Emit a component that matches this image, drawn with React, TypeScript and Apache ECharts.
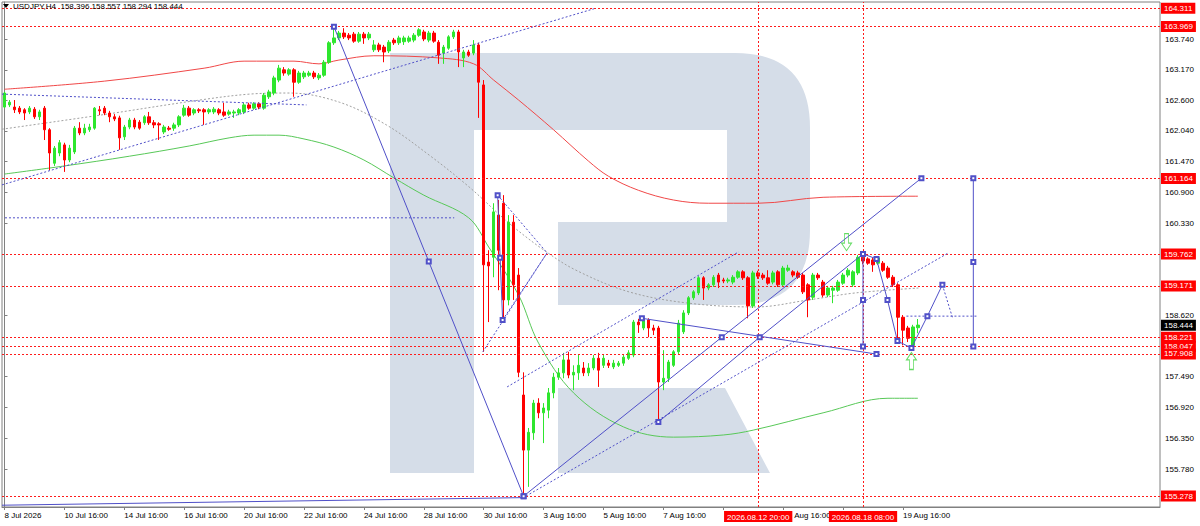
import React, { useEffect, useRef } from 'react';
import * as echarts from 'echarts';

// ---------- DATA ----------
const symbolTitle = 'USDJPY,H4  158.396 158.557 158.294 158.444';

const opens = [
  162.48,162.52,162.48,162.46,162.43,162.39,162.44,162.30,162.46,162.06,
  161.44,161.63,161.78,161.50,161.65,162.09,162.00,162.06,162.09,162.43,
  162.46,162.37,162.30,162.28,161.93,162.11,162.24,162.20,162.19,162.30,
  162.19,162.17,162.02,162.09,162.09,162.15,162.33,162.46,162.37,162.43,
  162.43,162.39,162.39,162.43,162.39,162.35,162.37,162.37,162.39,162.52,
  162.46,162.54,162.46,162.67,162.74,162.98,163.17,163.09,163.17,162.94,
  163.04,163.07,163.11,163.02,163.07,163.31,163.67,163.76,163.85,163.81,
  163.83,163.70,163.83,163.76,163.54,163.63,163.59,163.52,163.72,163.67,
  163.69,163.70,163.72,163.81,163.87,163.72,163.85,163.68,163.48,163.57,
  163.78,163.87,163.39,163.50,163.48,163.63,162.89,159.61,159.70,160.48,
  160.70,158.91,160.35,159.37,157.15,156.13,156.45,157.00,156.82,156.87,
  157.19,157.48,157.56,157.80,157.52,157.56,157.65,157.56,157.65,157.83,
  157.70,157.74,157.67,157.70,157.74,157.83,157.89,158.50,158.39,158.54,
  158.39,158.39,157.39,157.46,157.70,157.95,158.32,158.67,158.95,159.04,
  159.32,159.13,159.19,159.37,159.28,159.26,159.24,159.33,159.43,159.32,
  158.80,159.41,159.37,159.32,159.24,159.43,159.19,159.46,159.43,159.41,
  159.37,159.19,158.96,159.37,159.24,159.00,159.09,159.09,159.22,159.37,
  159.19,159.41,159.70,159.67,159.65,159.59,159.59,159.50,159.33,159.19,
  158.59,158.39,158.07,158.396
];
const closes = [
  162.74,162.57,162.43,162.39,162.37,162.46,162.30,162.39,162.06,161.63,
  161.72,161.82,161.50,161.72,162.09,162.00,162.09,162.11,162.46,162.41,
  162.37,162.30,162.26,161.91,162.11,162.24,162.11,162.09,162.30,162.19,
  162.15,162.15,162.11,162.07,162.15,162.30,162.46,162.33,162.43,162.41,
  162.39,162.43,162.44,162.37,162.33,162.39,162.39,162.43,162.52,162.46,
  162.54,162.48,162.70,162.76,163.02,163.20,163.11,163.17,162.94,163.11,
  163.11,163.11,163.04,163.07,163.31,163.67,163.76,163.85,163.78,163.76,
  163.70,163.83,163.76,163.83,163.63,163.54,163.50,163.68,163.67,163.76,
  163.76,163.76,163.81,163.91,163.74,163.85,163.70,163.44,163.59,163.78,
  163.87,163.50,163.50,163.44,163.63,162.94,159.56,159.54,160.54,159.83,
  158.91,160.35,159.19,157.57,156.13,156.46,157.00,156.82,156.91,157.19,
  157.48,157.56,157.80,157.52,157.57,157.70,157.56,157.65,157.83,157.61,
  157.83,157.70,157.74,157.74,157.85,157.93,158.50,158.45,158.57,158.39,
  158.35,157.39,157.46,157.76,157.95,158.48,158.67,158.95,159.06,159.32,
  159.13,159.19,159.33,159.24,159.26,159.28,159.33,159.43,159.32,158.80,
  159.41,159.35,159.32,159.22,159.41,159.19,159.50,159.50,159.37,159.33,
  159.06,158.91,159.37,159.32,159.00,159.13,159.13,159.24,159.37,159.46,
  159.43,159.70,159.63,159.59,159.56,159.69,159.46,159.33,159.19,158.59,
  158.35,158.20,158.41,158.444
];
const highs = [
  162.76,162.61,162.61,162.50,162.46,162.50,162.48,162.43,162.50,162.09,
  161.76,161.87,161.82,161.78,162.13,162.20,162.17,162.17,162.48,162.50,
  162.50,162.41,162.35,162.32,162.15,162.28,162.28,162.24,162.33,162.39,
  162.24,162.20,162.15,162.13,162.19,162.33,162.52,162.50,162.46,162.46,
  162.46,162.46,162.48,162.46,162.56,162.43,162.43,162.46,162.56,162.56,
  162.57,162.57,162.74,162.80,163.06,163.26,163.22,163.20,163.20,163.15,
  163.15,163.15,163.15,163.11,163.35,163.70,163.969,163.89,163.94,163.85,
  163.87,163.87,163.87,163.87,163.72,163.67,163.63,163.72,163.76,163.80,
  163.80,163.80,163.85,163.94,163.91,163.89,163.89,163.72,163.63,163.81,
  163.91,163.91,163.54,163.54,163.72,163.67,162.98,159.83,160.70,160.76,
  160.85,160.48,160.48,159.50,157.57,156.54,157.06,157.09,157.00,157.28,
  157.56,157.65,157.93,157.95,157.70,157.89,157.76,157.74,157.89,157.93,
  157.89,157.80,157.80,157.78,157.89,157.98,158.54,158.56,158.59,158.57,
  158.45,158.43,157.98,157.80,157.98,158.54,158.72,158.98,159.09,159.35,
  159.35,159.22,159.37,159.41,159.32,159.32,159.37,159.46,159.46,159.35,
  159.45,159.45,159.41,159.46,159.45,159.46,159.54,159.56,159.46,159.45,
  159.41,159.22,159.41,159.41,159.28,159.17,159.17,159.28,159.41,159.50,
  159.46,159.74,159.762,159.70,159.69,159.72,159.63,159.54,159.37,159.22,
  158.63,158.43,158.45,158.557
];
const lows = [
  162.46,162.48,162.37,162.35,162.24,162.35,162.26,162.24,161.87,161.31,
  161.39,161.57,161.28,161.46,161.61,161.96,161.96,162.02,162.06,162.33,
  162.33,162.20,162.22,161.69,161.87,162.07,162.07,162.06,162.15,162.15,
  162.09,161.87,161.98,162.04,162.04,162.11,162.30,162.30,162.33,162.37,
  162.15,162.35,162.35,162.33,162.30,162.32,162.28,162.33,162.35,162.43,
  162.43,162.44,162.43,162.63,162.70,162.94,163.06,163.06,162.67,162.91,
  163.00,163.04,163.00,162.98,163.04,163.28,163.63,163.72,163.74,163.72,
  163.67,163.67,163.65,163.72,163.50,163.50,163.31,163.48,163.63,163.63,
  163.63,163.67,163.68,163.78,163.70,163.68,163.67,163.28,163.28,163.54,
  163.74,163.22,163.22,163.41,163.44,162.28,157.95,158.50,159.33,159.09,
  158.57,158.81,158.91,157.48,155.278,155.45,156.32,156.72,156.26,156.72,
  157.09,157.43,157.46,157.46,157.24,157.43,157.50,157.50,157.61,157.30,
  157.65,157.65,157.63,157.67,157.69,157.80,157.85,158.30,158.35,158.22,
  158.26,156.65,157.24,157.39,157.67,157.91,158.28,158.63,158.91,159.00,
  158.91,159.09,159.15,159.13,159.22,159.22,159.20,159.30,159.28,158.57,
  158.76,159.30,159.28,159.19,159.20,159.15,159.15,159.43,159.33,159.30,
  159.02,158.59,158.91,159.28,158.96,158.96,158.85,159.06,159.19,159.33,
  159.15,159.37,159.57,159.56,159.43,159.56,159.43,159.30,159.15,158.17,
  158.07,158.13,158.047,158.294
];

// moving averages (bar index, price)
const redMA = [[0,162.81],[20,162.96],[40,163.20],[48,163.33],[58,163.33],[63,163.28],[67,163.35],[74,163.43],[87,163.39],[94,163.28],[98,162.98],[103,162.61],[110,162.06],[117,161.48],[121,161.20],[127,160.94],[134,160.76],[141,160.70],[151,160.70],[164,160.81],[183,160.83]];
const greenMA = [[0,161.24],[12,161.39],[25,161.57],[37,161.76],[45,161.91],[50,161.96],[55,161.96],[60,161.89],[66,161.74],[72,161.50],[78,161.17],[84,160.85],[93,160.43],[97,159.89],[103,159.00],[107,158.11],[114,157.19],[124,156.56],[134,156.37],[144,156.41],[150,156.50],[164,156.82],[177,157.09],[183,157.09]];
const grayArc = [[-0.5,162.07],[19.1,162.33],[39.1,162.61],[49.1,162.72],[57.1,162.74],[67.1,162.57],[76.5,162.15],[85.1,161.59],[93.1,161.00],[101.1,160.33],[108.1,159.83],[114.5,159.46],[125.1,159.06],[137.1,158.85],[150.5,158.78],[161.1,158.91],[170.5,159.04],[183.1,159.13]];

// drawn objects (bar index, price)
const waveDown = [[66,163.969],[85,159.62],[104,155.278]];
const smallZig = [[98.8,160.85],[99.3,159.69],[99.8,158.54]];
const triA = [[98.8,160.85],[108.7,159.78]];
const triB = [[108.7,159.78],[95.7,157.93]];
const triC = [[99.8,158.54],[108.7,159.78]];
const channelA = [[104,155.278],[143.7,158.22],[183.7,161.164]];
const channelB = [[131,156.65],[151.3,158.22],[172,159.762]];
const dotUpper = [[100.7,157.30],[147.1,159.80]];
const dotLower = [[104.5,155.28],[189.1,159.78]];
const fallLine = [[127.7,158.57],[174.7,157.908]];
const vertA = [[172,159.762],[172,158.91],[172,158.047]];
const forecast = [[172,159.762],[174.7,159.67],[176.9,158.91],[178.9,158.15],[181.7,158.02],[184.9,158.61],[187.9,159.19]];
const forecastTail = [[187.9,159.19],[189.9,158.59]];
const forecastLevel = [[180.7,158.61],[195.1,158.61]];
const vertB = [[194.1,161.164],[194.1,159.61],[194.1,158.047]];
const bottomLine = [[-0.5,155.11],[103.7,155.25]];
const dotL1 = [[-0.5,161.04],[118.1,164.30]];
const dotL2 = [[-0.5,162.72],[60.5,162.52]];
const dotL3 = [[0.1,160.43],[90.1,160.43]];
const arrowDown = [[168.7,159.98]];
const arrowUp = [[181.7,157.78]];

const levels = [164.311, 163.969, 161.164, 159.762, 159.171, 158.221, 158.047, 157.908, 155.278];
const lastPrice = 158.444;
const vLines = ['2026.08.12 20:00', '2026.08.18 08:00'];
const yTicks = [163.74, 163.17, 162.6, 162.04, 161.47, 160.9, 160.33, 158.62, 157.49, 156.92, 156.35, 155.78];
// labels that stay visible next to the red time boxes ('13 Aug 16:00' shows only its tail)
const xTickKeys = ['2026.07.08 16:00','2026.07.10 16:00','2026.07.14 16:00','2026.07.16 16:00','2026.07.20 16:00','2026.07.22 16:00','2026.07.24 16:00','2026.07.28 16:00','2026.07.30 16:00','2026.08.03 16:00','2026.08.05 16:00','2026.08.07 16:00','2026.08.13 16:00','2026.08.19 16:00'];
const xTickLabels = ['8 Jul 2026','10 Jul 16:00','14 Jul 16:00','16 Jul 16:00','20 Jul 16:00','22 Jul 16:00','24 Jul 16:00','28 Jul 16:00','30 Jul 16:00','3 Aug 16:00','5 Aug 16:00','7 Aug 16:00','{cut|Aug 16:00}','19 Aug 16:00'];
const xTickOnly = ['2026.08.11 16:00', '2026.08.17 16:00'];

const SLOTS = 232;

// ---------- helpers ----------
const pad = (n: number) => (n < 10 ? '0' + n : '' + n);
function buildCategories(): string[] {
  const out: string[] = [];
  let t = Date.UTC(2026, 6, 8, 16);
  while (out.length < SLOTS) {
    const d = new Date(t);
    const wd = d.getUTCDay();
    if (wd !== 0 && wd !== 6) {
      out.push(`${d.getUTCFullYear()}.${pad(d.getUTCMonth() + 1)}.${pad(d.getUTCDate())} ${pad(d.getUTCHours())}:00`);
    }
    t += 4 * 3600 * 1000;
  }
  return out;
}

const LOGO_D = 'M0,0 H345 Q420,0 420,75 V177 Q420,252 345,252 H168 V169 H337 V77 H84 V420 H0 Z M168,335 H335 L380,420 H168 Z';
echarts.graphic.registerShape('rlogo', echarts.graphic.extendPath(LOGO_D, {}) as any);

const BLUE = '#5050c8';
const RED = '#ff1a1a';
const FONT = 'Liberation Sans, Arial, sans-serif';

function seg(data: number[][], dashed: boolean, squares: boolean, color = BLUE): any {
  return {
    type: 'line',
    xAxisIndex: 1,
    yAxisIndex: 0,
    data,
    silent: true,
    showSymbol: squares,
    symbol: 'emptyRect',
    symbolSize: 4,
    itemStyle: { color, borderWidth: 1 },
    lineStyle: { color, width: 1, type: dashed ? [2, 2] : 'solid' },
    z: 5,
  };
}

export default function App() {
  const ref = useRef<HTMLDivElement>(null);
  useEffect(() => {
    document.body.style.margin = '0';
    const el = ref.current!;
    const chart = echarts.init(el, undefined, { renderer: 'svg' });
    const categories = buildCategories();
    const tickMap = new Map<string, string>();
    xTickKeys.forEach((k, i) => tickMap.set(k, xTickLabels[i]));
    const tickSet = new Set<string>([...xTickKeys, ...xTickOnly]);
    const candles = opens.map((o, i) => [o, closes[i], lows[i], highs[i]]);

    const levelLines = levels.map((v) => ({
      yAxis: v,
      lineStyle: { color: RED, type: [2, 2], width: 1 },
      label: {
        show: true, position: 'end', formatter: v.toFixed(3), backgroundColor: '#ff0000',
        color: '#fff', fontSize: 8, fontFamily: FONT, padding: [2, 3, 1, 3], distance: 1,
      },
    }));
    const vertLines = vLines.map((c) => ({
      xAxis: c,
      lineStyle: { color: RED, type: [2, 2], width: 1 },
      label: {
        show: true, position: 'start', formatter: c, backgroundColor: '#ff0000',
        color: '#fff', fontSize: 8, fontFamily: FONT, padding: [2, 3, 1, 3], distance: 4,
      },
    }));
    const priceLine = {
      yAxis: lastPrice,
      lineStyle: { color: 'rgba(0,0,0,0)', width: 0 },
      label: {
        show: true, position: 'end', formatter: lastPrice.toFixed(3), backgroundColor: '#000',
        color: '#fff', fontSize: 8, fontFamily: FONT, padding: [2, 3, 1, 3], distance: 1,
      },
    };

    const option: any = {
      animation: false,
      backgroundColor: '#ffffff',
      textStyle: { fontFamily: FONT },
      grid: { left: 2, right: 40, top: 2, bottom: 19, show: true, borderColor: '#808080', borderWidth: 1, backgroundColor: 'transparent' },
      xAxis: [
        {
          type: 'category',
          data: categories,
          boundaryGap: true,
          axisLine: { lineStyle: { color: '#808080' } },
          axisTick: { show: true, length: 3, alignWithLabel: true, interval: (_i: number, v: string) => tickSet.has(v), lineStyle: { color: '#808080' } },
          axisLabel: {
            interval: (_i: number, v: string) => tickMap.has(v),
            formatter: (v: string) => tickMap.get(v) ?? '',
            fontSize: 8, color: '#000', align: 'left', margin: 4, fontFamily: FONT,
            rich: { cut: { fontSize: 8, color: '#000', fontFamily: FONT, padding: [0, 0, 0, 11] } },
          },
          splitLine: { show: false },
        },
        { type: 'value', min: -0.5, max: SLOTS - 0.5, show: false },
      ],
      yAxis: {
        type: 'value',
        position: 'right',
        min: 155.077,
        max: 164.425,
        splitLine: { show: false },
        axisLine: { show: true, lineStyle: { color: '#808080' } },
        axisTick: { show: true, length: 3, customValues: yTicks, lineStyle: { color: '#808080' } },
        axisLabel: { customValues: yTicks, formatter: (v: number) => v.toFixed(3), fontSize: 8, color: '#000', margin: 5, fontFamily: FONT },
      },
      graphic: [
        { type: 'rlogo', x: 390, y: 53, silent: true, z: -10, style: { fill: '#d5dde8' } },
        { type: 'polygon', silent: true, z: 10, shape: { points: [[3, 4], [9, 4], [6, 8]] }, style: { fill: '#000' } },
        { type: 'text', silent: true, z: 10, x: 13, y: 2, style: { text: symbolTitle, fill: '#000', font: `8px ${FONT}` } },
      ],
      series: [
        {
          type: 'candlestick',
          xAxisIndex: 0,
          yAxisIndex: 0,
          data: candles,
          barWidth: 3,
          z: 3,
          itemStyle: { color: '#2ee62e', color0: '#ff0000', borderColor: '#2ee62e', borderColor0: '#ff0000', borderWidth: 1 },
          markLine: { symbol: ['none', 'none'], silent: true, animation: false, data: [...levelLines, ...vertLines, priceLine] },
        },
        { type: 'line', xAxisIndex: 1, data: redMA, smooth: 0.35, showSymbol: false, silent: true, lineStyle: { color: '#f04848', width: 1 }, z: 2 },
        { type: 'line', xAxisIndex: 1, data: greenMA, smooth: 0.35, showSymbol: false, silent: true, lineStyle: { color: '#58c858', width: 1 }, z: 2 },
        { type: 'line', xAxisIndex: 1, data: grayArc, smooth: 0.35, showSymbol: false, silent: true, lineStyle: { color: '#a0a0a0', width: 1, type: [2, 2] }, z: 2 },
        seg(waveDown, false, true),
        seg(smallZig, false, true),
        seg(triA, true, false),
        seg(triB, true, false),
        seg(triC, true, false),
        seg(channelA, false, true),
        seg(channelB, false, true),
        seg(dotUpper, true, false),
        seg(dotLower, true, false),
        seg(fallLine, false, true),
        seg(vertA, false, true),
        seg(forecast, false, true),
        seg(forecastTail, true, false),
        seg(forecastLevel, true, false),
        seg(vertB, false, true),
        seg(bottomLine, false, false),
        seg(dotL1, true, false),
        seg(dotL2, true, false),
        seg(dotL3, true, false),
        {
          type: 'scatter', xAxisIndex: 1, data: arrowDown, silent: true, z: 6,
          symbol: 'path://M3,0 H7 V9 H10 L5,16 L0,9 H3 Z', symbolSize: [10, 17],
          itemStyle: { color: 'rgba(255,255,255,0)', borderColor: '#3cd23c', borderWidth: 1 },
        },
        {
          type: 'scatter', xAxisIndex: 1, data: arrowUp, silent: true, z: 6,
          symbol: 'path://M5,0 L10,7 H7 V16 H3 V7 H0 Z', symbolSize: [10, 17],
          itemStyle: { color: 'rgba(255,255,255,0)', borderColor: '#3cd23c', borderWidth: 1 },
        },
      ],
    };
    chart.setOption(option);
    return () => chart.dispose();
  }, []);
  return <div ref={ref} style={{ width: 1200, height: 526 }} />;
}
